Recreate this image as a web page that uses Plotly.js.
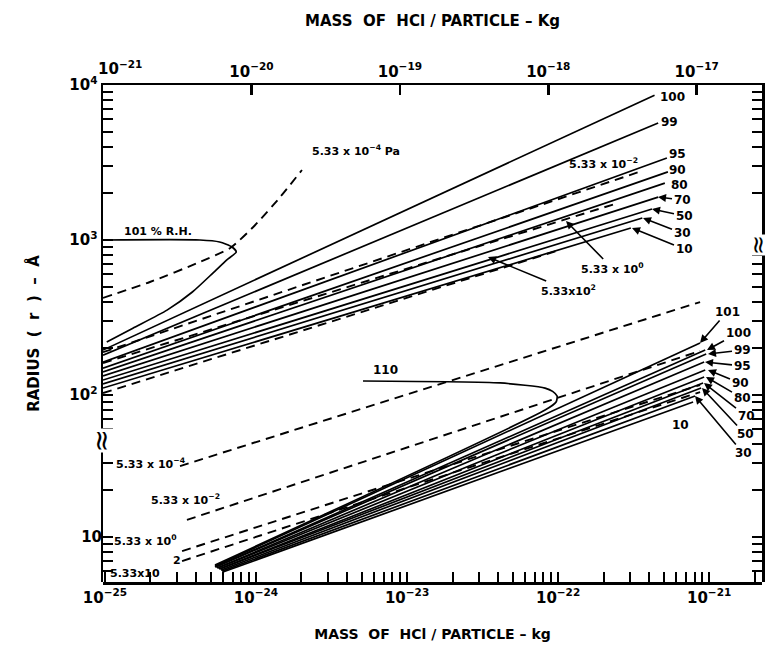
<!DOCTYPE html>
<html><head><meta charset="utf-8">
<script src="https://cdn.plot.ly/plotly-3.0.1.min.js"></script>
<style>html,body{margin:0;padding:0;background:#fff}#chart{width:773px;height:652px}</style>
</head><body><div id="chart"></div>
<script>
// ---------- tick values / tick labels ----------
const bottomTickVals = [1e-25, 2e-25, 3e-25, 4e-25, 5e-25, 6e-25, 7e-25, 8e-25, 9e-25,
  1e-24, 2e-24, 3e-24, 4e-24, 5e-24, 6e-24, 7e-24, 8e-24, 9e-24,
  1e-23, 2e-23, 3e-23, 4e-23, 5e-23, 6e-23, 7e-23, 8e-23, 9e-23,
  1e-22, 2e-22, 3e-22, 4e-22, 5e-22, 6e-22, 7e-22, 8e-22, 9e-22, 1e-21, 2e-21];
const bottomTickText = ['10<sup>\u221225</sup>', '', '', '', '', '', '', '', '',
  '10<sup>\u221224</sup>', '', '', '', '', '', '', '', '',
  '10<sup>\u221223</sup>', '', '', '', '', '', '', '', '',
  '10<sup>\u221222</sup>', '', '', '', '', '', '', '', '', '10<sup>\u221221</sup>', ''];
const topTickVals = [1e-21, 1e-20, 1e-19, 1e-18, 1e-17];
const topTickText = ['', '10<sup>\u221220</sup>', '10<sup>\u221219</sup>', '10<sup>\u221218</sup>', '10<sup>\u221217</sup>'];
const topFirstLabel = '10<sup>\u221221</sup>';
const upperRadiusTicks = [60, 70, 80, 90, 100, 200, 300, 400, 500, 600, 700, 800, 900,
  1000, 2000, 3000, 4000, 5000, 6000, 7000, 8000, 9000, 10000];
const upperRadiusText = ['', '', '', '', '10<sup>2</sup>', '', '', '', '', '', '', '', '',
  '10<sup>3</sup>', '', '', '', '', '', '', '', '', '10<sup>4</sup>'];
const lowerRadiusTicks = [6, 7, 8, 9, 10, 20, 30, 40];
const lowerRadiusText = ['', '', '', '', '10', '', '', ''];

// ---------- upper panel (top mass axis, kg ; radius in Å) ----------
const upperRH = ['100', '99', '95', '90', '80', '70', '50', '30', '10'];
const upperStartMass = [1e-21, 1e-21, 1e-21, 1e-21, 1e-21, 1e-21, 1e-21, 1e-21, 1e-21];
const upperStartR = [195, 181, 163, 149, 141, 133, 125, 118, 111];
const upperEndMass = [5.2e-18, 5.5e-18, 6.3e-18, 6.4e-18, 6.1e-18, 5.5e-18, 5.0e-18, 4.3e-18, 3.6e-18];
const upperEndR = [8600, 5690, 3380, 2750, 2330, 1890, 1585, 1387, 1195];

const rh101Mass = [1e-21, 4.5e-21, 6.1e-21, 7.4e-21, 7.9e-21, 6.8e-21, 5.5e-21, 4.0e-21, 2.7e-21, 1.59e-21, 1.06e-21];
const rh101R = [1000, 1000, 971, 901, 837, 743, 612, 462, 353, 270, 220];

const upperP4Mass = [1e-21, 2.07e-21, 4.5e-21, 7.2e-21, 1.06e-20, 1.56e-20, 2.19e-20];
const upperP4R = [423, 536, 722, 888, 1250, 1890, 2830];
const upperP2Mass = [1e-21, 4.1e-18];
const upperP2R = [189, 2750];
const upperP0Mass = [1e-21, 2.8e-18];
const upperP0R = [161, 1706];
const upperPp2Mass = [1e-21, 1.19e-18];
const upperPp2R = [103, 862];

// ---------- lower panel (bottom mass axis, kg ; radius in Å) ----------
const lowerRH = ['101', '100', '99', '95', '90', '80', '70', '50', '30', '10'];
const lowerStartMass = [5.35e-25, 5.35e-25, 5.43e-25, 5.52e-25, 5.6e-25, 5.69e-25, 5.78e-25, 5.87e-25, 5.96e-25, 6.04e-25];
const lowerStartR = [6.5, 6.4, 6.4, 6.31, 6.31, 6.22, 6.22, 6.12, 6.03, 5.95];
const lowerEndMass = [8.71e-22, 9.42e-22, 9.56e-22, 9.27e-22, 9.42e-22, 9.27e-22, 9.12e-22, 8.85e-22, 8.07e-22, 7.83e-22];
const lowerEndR = [178.5, 161, 151.6, 134.6, 119.5, 107.7, 98.6, 91.4, 81.2, 74.3];

const rh110Mass = [5.35e-25, 8.2e-23, 9.7e-23, 9.85e-23, 9.2e-23, 8.2e-23, 4.13e-23, 5.11e-24];
const rh110R = [6.6, 65.9, 74.3, 81.2, 87, 91.4, 98.6, 101.5];

const lowerP4Mass = [3.14e-25, 8.71e-22];
const lowerP4R = [28.7, 328];
const lowerP2Mass = [3.49e-25, 8.71e-22];
const lowerP2R = [12.9, 158.5];
const lowerP0Mass = [3.24e-25, 8.71e-22];
const lowerP0R = [8.12, 95.7];
const lowerPp2Mass = [3.24e-25, 8.71e-22];
const lowerPp2R = [7.0, 86.1];

// ---------- traces ----------
const traces = [];
function solid(x, y, xa, ya) {
  traces.push({x: x, y: y, xaxis: xa, yaxis: ya, mode: 'lines', type: 'scatter',
    line: {color: '#000', width: 1.7, shape: 'spline', smoothing: 0.6}, hoverinfo: 'skip'});
}
function dashed(x, y, xa, ya) {
  traces.push({x: x, y: y, xaxis: xa, yaxis: ya, mode: 'lines', type: 'scatter',
    line: {color: '#000', width: 1.9, dash: '9px,6px', shape: 'spline', smoothing: 0.6}, hoverinfo: 'skip'});
}
for (let i = 0; i < lowerRH.length; i++) {
  solid([lowerStartMass[i], lowerEndMass[i]], [lowerStartR[i], lowerEndR[i]], 'x', 'y');
}
solid(rh110Mass, rh110R, 'x', 'y');
dashed(lowerP4Mass, lowerP4R, 'x', 'y');
dashed(lowerP2Mass, lowerP2R, 'x', 'y');
dashed(lowerP0Mass, lowerP0R, 'x', 'y');
dashed(lowerPp2Mass, lowerPp2R, 'x', 'y');
for (let i = 0; i < upperRH.length; i++) {
  solid([upperStartMass[i], upperEndMass[i]], [upperStartR[i], upperEndR[i]], 'x2', 'y2');
}
solid(rh101Mass, rh101R, 'x2', 'y2');
dashed(upperP4Mass, upperP4R, 'x2', 'y2');
dashed(upperP2Mass, upperP2R, 'x2', 'y2');
dashed(upperP0Mass, upperP0R, 'x2', 'y2');
dashed(upperPp2Mass, upperPp2R, 'x2', 'y2');

// ---------- layout helpers ----------
const L = 103, R = 762, T = 85, B = 582;
const W = R - L, H = B - T;
function px(x) { return (x - L) / W; }
function py(y) { return (B - y) / H; }
const FONT = 'DejaVu Sans';
const anns = [];
function label(text, x, y, size) {
  anns.push({text: text, x: px(x), y: py(y), xref: 'paper', yref: 'paper', showarrow: false,
    xanchor: 'center', yanchor: 'middle', font: {family: FONT, size: size || 12, color: '#000', weight: 'bold'}});
}
function arrowLabel(text, tipX, tipY, labX, labY, size) {
  anns.push({text: text, x: px(tipX), y: py(tipY), xref: 'paper', yref: 'paper', showarrow: true,
    ax: labX - tipX, ay: labY - tipY, arrowhead: 2, arrowsize: 1, arrowwidth: 1.6, arrowcolor: '#000',
    standoff: 0, font: {family: FONT, size: size || 12, color: '#000', weight: 'bold'}});
}
label(topFirstLabel, 120, 68, 15);
label('101 % R.H.', 158, 231, 11);
label('5.33 x 10<sup>\u22124</sup> Pa', 356, 150, 11);
label('100', 672, 97); label('99', 669, 122); label('95', 677, 154);
label('90', 677, 170); label('80', 679, 185);
arrowLabel('70', 658, 197, 682, 200);
arrowLabel('50', 652, 209, 684, 216);
arrowLabel('30', 643, 218, 682, 233);
arrowLabel('10', 632, 228, 684, 249);
label('5.33 x 10<sup>\u22122</sup>', 603, 163, 11);
arrowLabel('5.33 x 10<sup>0</sup>', 566, 221, 612, 268, 11);
arrowLabel('5.33x10<sup>2</sup>', 488, 257, 568, 290, 11);
label('110', 385, 370);
label('10', 680, 425);
arrowLabel('101', 700, 343, 727, 312);
arrowLabel('100', 707, 350, 738, 333);
arrowLabel('99', 708, 354, 742, 350);
arrowLabel('95', 705, 362, 742, 366);
arrowLabel('90', 708, 370, 740, 383);
arrowLabel('80', 706, 377, 742, 398);
arrowLabel('70', 704, 383, 746, 416);
arrowLabel('50', 702, 388, 745, 434);
arrowLabel('30', 695, 396, 743, 453);
label('5.33 x 10<sup>\u22124</sup>', 150, 463, 11);
label('5.33 x 10<sup>\u22122</sup>', 185, 499, 11);
label('5.33 x 10<sup>0</sup>', 145, 540, 11);
label('2', 177, 560, 11);
label('5.33x10', 135, 573, 11);
[[103, 440, 28], [759, 245, 24]].forEach(function (p) {
  anns.push({text: '\u2248', x: px(p[0]), y: py(p[1]), xref: 'paper', yref: 'paper', showarrow: false,
    xanchor: 'center', yanchor: 'middle', textangle: 90, bgcolor: '#fff', borderpad: 0,
    font: {family: FONT, size: p[2], color: '#000'}});
});

const tickFont = {family: FONT, size: 15, color: '#000', weight: 'bold'};
const titleFont = {family: FONT, size: 15, color: '#000', weight: 'bold'};
const NB = '\u00a0';
const lowerRange = [0.71, 3.916];
const upperRange = [0.794, 4];
const bottomRange = [-25.013, -20.65];
const topRange = [-21, -16.56];

const layout = {
  width: 773, height: 652,
  margin: {l: L, r: 773 - R, t: T, b: 652 - B},
  paper_bgcolor: '#fff', plot_bgcolor: 'rgba(0,0,0,0)', showlegend: false,
  xaxis: {type: 'log', range: bottomRange, anchor: 'y', tickvals: bottomTickVals, ticktext: bottomTickText,
    ticks: 'inside', ticklen: 10, tickwidth: 2, tickcolor: '#000', showline: true, linewidth: 2.5, linecolor: '#000',
    showgrid: false, zeroline: false, tickfont: tickFont,
    title: {text: 'MASS' + NB + ' OF' + NB + ' HCl / PARTICLE \u2013 kg', font: {family: FONT, size: 14, color: '#000', weight: 'bold'}, standoff: 24}},
  yaxis: {type: 'log', range: lowerRange, anchor: 'x', tickvals: lowerRadiusTicks, ticktext: lowerRadiusText,
    ticks: 'inside', ticklen: 10, tickwidth: 2, tickcolor: '#000', showline: false, mirror: 'ticks',
    showgrid: false, zeroline: false, tickfont: tickFont},
  xaxis2: {type: 'log', range: topRange, anchor: 'y2', side: 'top', tickvals: topTickVals, ticktext: topTickText,
    ticks: 'inside', ticklen: 10, tickwidth: 2.5, tickcolor: '#000', showline: true, linewidth: 2.5, linecolor: '#000',
    showgrid: false, zeroline: false, tickfont: tickFont,
    title: {text: 'MASS' + NB + ' OF' + NB + ' HCl / PARTICLE \u2013 Kg', font: titleFont, standoff: 30}},
  yaxis2: {type: 'log', range: upperRange, anchor: 'x2', side: 'left', tickvals: upperRadiusTicks, ticktext: upperRadiusText,
    ticks: 'inside', ticklen: 10, tickwidth: 2, tickcolor: '#000', showline: true, mirror: 'ticks', linewidth: 2.5, linecolor: '#000',
    showgrid: false, zeroline: false, tickfont: tickFont,
    title: {text: 'RADIUS' + NB + NB + '(' + NB + NB + 'r' + NB + NB + ')' + NB + NB + '\u2013' + NB + NB + '\u00c5', font: titleFont, standoff: 26}},
  annotations: anns
};

Plotly.newPlot('chart', traces, layout, {displayModeBar: false, staticPlot: true});
</script></body></html>
